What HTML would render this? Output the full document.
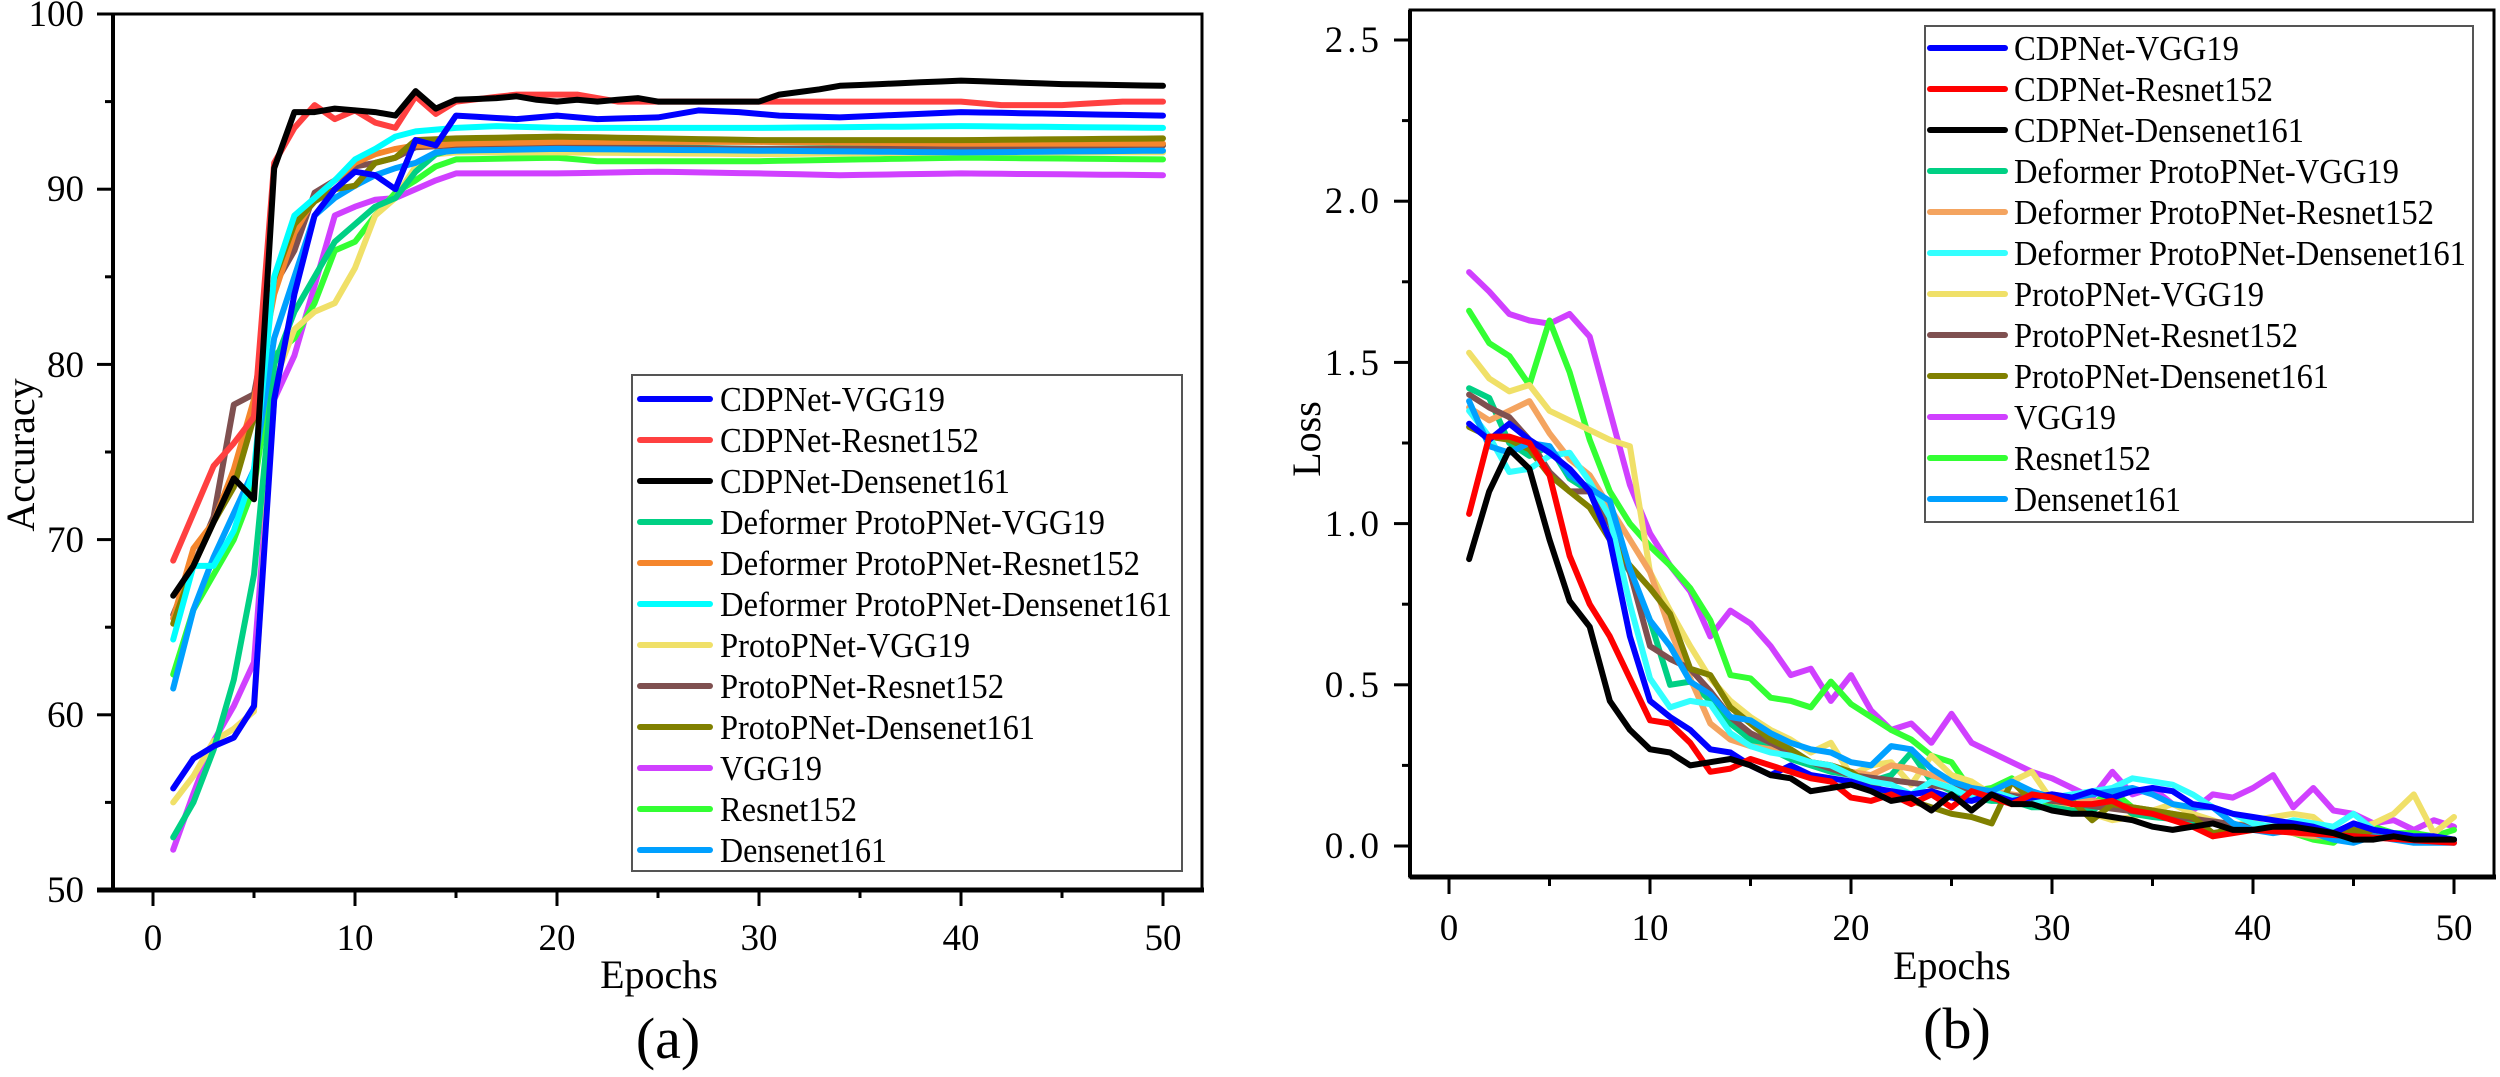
<!DOCTYPE html>
<html><head><meta charset="utf-8"><style>
html,body{margin:0;padding:0;background:#fff;}
svg{display:block;font-family:"Liberation Serif",serif;}
</style></head><body>
<svg id="s" width="2500" height="1077" viewBox="0 0 2500 1077" xmlns="http://www.w3.org/2000/svg">
<rect width="2500" height="1077" fill="#fff"/>
<g id="plots"></g>
<!-- Left axes -->
<g stroke="#000" fill="none">
<rect x="113" y="14" width="1089" height="876" stroke-width="3"/>
<line x1="97" y1="890" x2="1204" y2="890" stroke-width="5"/>
<line x1="113" y1="14" x2="113" y2="890" stroke-width="4"/>
</g>
<g id="lt" stroke="#000" stroke-width="3"></g>
<g font-size="37" text-anchor="end" fill="#000">
<text x="84" y="26">100</text><text x="84" y="201">90</text><text x="84" y="377">80</text>
<text x="84" y="552">70</text><text x="84" y="727">60</text><text x="84" y="902">50</text>
</g>
<g font-size="37" text-anchor="middle">
<text x="153" y="950">0</text><text x="355" y="950">10</text><text x="557" y="950">20</text>
<text x="759" y="950">30</text><text x="961" y="950">40</text><text x="1163" y="950">50</text>
</g>
<text x="659" y="988" font-size="40" text-anchor="middle">Epochs</text>
<text x="668" y="1058" font-size="58" text-anchor="middle">(a)</text>
<text transform="translate(34,455) rotate(-90)" font-size="40" text-anchor="middle">Accuracy</text>
<!-- Right axes -->
<g stroke="#000" fill="none">
<rect x="1410" y="10" width="1084" height="867" stroke-width="3"/>
<line x1="1410" y1="877" x2="2496" y2="877" stroke-width="5"/>
<line x1="1410" y1="10" x2="1410" y2="877" stroke-width="4"/>
</g>
<g id="rt" stroke="#000" stroke-width="3"></g>
<g font-size="37" text-anchor="end" letter-spacing="4">
<text x="1383" y="52">2.5</text><text x="1383" y="213">2.0</text><text x="1383" y="375">1.5</text>
<text x="1383" y="536">1.0</text><text x="1383" y="697">0.5</text><text x="1383" y="858">0.0</text>
</g>
<g font-size="37" text-anchor="middle">
<text x="1449" y="940">0</text><text x="1650" y="940">10</text><text x="1851" y="940">20</text>
<text x="2052" y="940">30</text><text x="2253" y="940">40</text><text x="2454" y="940">50</text>
</g>
<text x="1952" y="979" font-size="40" text-anchor="middle">Epochs</text>
<text x="1957" y="1048" font-size="58" text-anchor="middle">(b)</text>
<text transform="translate(1320,439) rotate(-90)" font-size="40" text-anchor="middle">Loss</text>
<!-- Left legend -->
<rect x="632" y="375" width="550" height="496" fill="#fff" stroke="#555" stroke-width="2"/>
<g stroke-width="6" stroke-linecap="round">
<line x1="640" y1="399" x2="710" y2="399" stroke="#0000ff"/>
<line x1="640" y1="440" x2="710" y2="440" stroke="#ff4040"/>
<line x1="640" y1="481" x2="710" y2="481" stroke="#000000"/>
<line x1="640" y1="522" x2="710" y2="522" stroke="#00d084"/>
<line x1="640" y1="563" x2="710" y2="563" stroke="#f5862c"/>
<line x1="640" y1="604" x2="710" y2="604" stroke="#00ffff"/>
<line x1="640" y1="645" x2="710" y2="645" stroke="#f0e068"/>
<line x1="640" y1="686" x2="710" y2="686" stroke="#7f5050"/>
<line x1="640" y1="727" x2="710" y2="727" stroke="#808000"/>
<line x1="640" y1="768" x2="710" y2="768" stroke="#d040ff"/>
<line x1="640" y1="809" x2="710" y2="809" stroke="#33ff33"/>
<line x1="640" y1="850" x2="710" y2="850" stroke="#00a0ff"/>
</g>
<g font-size="35" lengthAdjust="spacingAndGlyphs">
<text x="720" y="411" textLength="225" lengthAdjust="spacingAndGlyphs">CDPNet-VGG19</text>
<text x="720" y="452" textLength="259" lengthAdjust="spacingAndGlyphs">CDPNet-Resnet152</text>
<text x="720" y="493" textLength="290" lengthAdjust="spacingAndGlyphs">CDPNet-Densenet161</text>
<text x="720" y="534" textLength="385" lengthAdjust="spacingAndGlyphs">Deformer ProtoPNet-VGG19</text>
<text x="720" y="575" textLength="420" lengthAdjust="spacingAndGlyphs">Deformer ProtoPNet-Resnet152</text>
<text x="720" y="616" textLength="452" lengthAdjust="spacingAndGlyphs">Deformer ProtoPNet-Densenet161</text>
<text x="720" y="657" textLength="250" lengthAdjust="spacingAndGlyphs">ProtoPNet-VGG19</text>
<text x="720" y="698" textLength="284" lengthAdjust="spacingAndGlyphs">ProtoPNet-Resnet152</text>
<text x="720" y="739" textLength="315" lengthAdjust="spacingAndGlyphs">ProtoPNet-Densenet161</text>
<text x="720" y="780" textLength="102" lengthAdjust="spacingAndGlyphs">VGG19</text>
<text x="720" y="821" textLength="137" lengthAdjust="spacingAndGlyphs">Resnet152</text>
<text x="720" y="862" textLength="167" lengthAdjust="spacingAndGlyphs">Densenet161</text>
</g>
<!-- Right legend -->
<rect x="1925" y="26" width="548" height="496" fill="#fff" stroke="#555" stroke-width="2"/>
<g stroke-width="6" stroke-linecap="round">
<line x1="1930" y1="48" x2="2005" y2="48" stroke="#0000ff"/>
<line x1="1930" y1="89" x2="2005" y2="89" stroke="#ff0000"/>
<line x1="1930" y1="130" x2="2005" y2="130" stroke="#000000"/>
<line x1="1930" y1="171" x2="2005" y2="171" stroke="#00d084"/>
<line x1="1930" y1="212" x2="2005" y2="212" stroke="#f4a460"/>
<line x1="1930" y1="253" x2="2005" y2="253" stroke="#33ffff"/>
<line x1="1930" y1="294" x2="2005" y2="294" stroke="#f0e068"/>
<line x1="1930" y1="335" x2="2005" y2="335" stroke="#7f5050"/>
<line x1="1930" y1="376" x2="2005" y2="376" stroke="#808000"/>
<line x1="1930" y1="417" x2="2005" y2="417" stroke="#d040ff"/>
<line x1="1930" y1="458" x2="2005" y2="458" stroke="#33ff33"/>
<line x1="1930" y1="499" x2="2005" y2="499" stroke="#00a0ff"/>
</g>
<g font-size="35">
<text x="2014" y="60" textLength="225" lengthAdjust="spacingAndGlyphs">CDPNet-VGG19</text>
<text x="2014" y="101" textLength="259" lengthAdjust="spacingAndGlyphs">CDPNet-Resnet152</text>
<text x="2014" y="142" textLength="290" lengthAdjust="spacingAndGlyphs">CDPNet-Densenet161</text>
<text x="2014" y="183" textLength="385" lengthAdjust="spacingAndGlyphs">Deformer ProtoPNet-VGG19</text>
<text x="2014" y="224" textLength="420" lengthAdjust="spacingAndGlyphs">Deformer ProtoPNet-Resnet152</text>
<text x="2014" y="265" textLength="452" lengthAdjust="spacingAndGlyphs">Deformer ProtoPNet-Densenet161</text>
<text x="2014" y="306" textLength="250" lengthAdjust="spacingAndGlyphs">ProtoPNet-VGG19</text>
<text x="2014" y="347" textLength="284" lengthAdjust="spacingAndGlyphs">ProtoPNet-Resnet152</text>
<text x="2014" y="388" textLength="315" lengthAdjust="spacingAndGlyphs">ProtoPNet-Densenet161</text>
<text x="2014" y="429" textLength="102" lengthAdjust="spacingAndGlyphs">VGG19</text>
<text x="2014" y="470" textLength="137" lengthAdjust="spacingAndGlyphs">Resnet152</text>
<text x="2014" y="511" textLength="167" lengthAdjust="spacingAndGlyphs">Densenet161</text>
</g>
</svg>
<script>
(function(){
var NS="http://www.w3.org/2000/svg";
function el(p,t,a){var e=document.createElementNS(NS,t);for(var k in a)e.setAttribute(k,a[k]);p.appendChild(e);return e;}
// ticks
var lt=document.getElementById('lt'),rt=document.getElementById('rt');
for(var v=50;v<=100;v+=5){var y=14+(100-v)*17.52;el(lt,'line',{x1:v%10?105:97,y1:y,x2:113,y2:y});}
for(var e=0;e<=50;e+=5){var x=153+20.2*e;el(lt,'line',{x1:x,y1:890,x2:x,y2:e%10?898:906});}
for(var L=0;L<=2.5001;L+=0.25){var y=846-L*322.4;el(rt,'line',{x1:Math.abs(L*2-Math.round(L*2))>0.01?1402:1394,y1:y,x2:1410,y2:y});}
for(var e=0;e<=50;e+=5){var x=1449+20.1*e;el(rt,'line',{x1:x,y1:877,x2:x,y2:e%10?886:894});}
function interp(k){var a=[],ks=Object.keys(k).map(Number).sort(function(a,b){return a-b});
for(var e=1;e<=50;e++){if(k[e]!==undefined){a.push(k[e]);continue;}var i=0;while(ks[i+1]<e)i++;var e0=ks[i],e1=ks[i+1];a.push(k[e0]+(k[e1]-k[e0])*(e-e0)/(e1-e0));}return a;}
var g=document.getElementById('plots');
function draw(k,col,fx,fy,w){var a=interp(k),pts=[];for(var i=0;i<50;i++)pts.push(fx(i+1).toFixed(1)+','+fy(a[i]).toFixed(1));
el(g,'polyline',{points:pts.join(' '),fill:'none',stroke:col,'stroke-width':w||6,'stroke-linejoin':'round','stroke-linecap':'round'});}
var LX=function(e){return 153+20.2*e},LY=function(v){return 14+(100-v)*17.52};
var RX=function(e){return 1449+20.1*e},RY=function(v){return 846-v*322.4};
var A=[
['#d040ff',{1:52.3,2:55.5,3:58.5,4:60.5,5:63,6:78,7:80.5,8:84.5,9:88.5,10:89,11:89.4,12:89.5,13:90,14:90.5,15:90.9,20:90.9,25:91,30:90.9,34:90.8,40:90.9,50:90.8}],
['#33ff33',{1:62.3,2:66,3:68,4:70,5:73,6:80.5,7:81.5,8:83.5,9:86.5,10:87,11:88.5,12:89.8,13:90.5,14:91.3,15:91.7,20:91.8,22:91.6,30:91.6,40:91.8,50:91.7}],
['#f0e068',{1:55,2:56.5,3:58.5,4:59.2,5:60.2,6:79,7:82,8:83,9:83.5,10:85.5,11:88.5,12:89.5,13:91.3,14:92,15:92.1,20:92.1,30:92,40:92.1,50:92.1}],
['#00d084',{1:53,2:55,3:58,4:62,5:68,6:80,7:83,8:85,9:87,10:88,11:89,12:89.5,13:91,14:92,15:92.3,20:92.5,30:92.3,40:92.4,50:92.5}],
['#7f5050',{1:65.7,2:68.5,3:71.3,4:77.7,5:78.3,6:84.5,7:86.5,8:89.8,9:90.5,10:91.3,11:91.5,12:91.8,13:92.4,15:92.5,20:92.4,30:92.3,40:92.3,50:92.5}],
['#f5862c',{1:65.5,2:69.5,3:71,4:74,5:78,6:84,7:87.5,8:89.5,9:90.5,10:91.5,11:92,12:92.3,13:92.5,14:92.5,15:92.6,20:92.7,30:92.7,40:92.6,50:92.6}],
['#00a0ff',{1:61.5,2:66,3:69,4:71.5,5:74,6:81.5,7:85,8:88.5,9:89.5,10:90.2,11:90.8,12:91.2,13:91.5,14:92.1,15:92.2,20:92.3,30:92.2,40:92.1,50:92.2}],
['#808000',{1:65.2,2:68.5,3:71,4:73,5:77,6:84.9,7:88,8:89.3,9:90,10:90.2,11:91.5,12:91.8,13:92.8,15:92.9,20:93,25:92.9,30:92.8,40:92.8,50:92.9}],
['#00ffff',{1:64.3,2:68.5,3:68.5,4:70.5,5:74,6:85,7:88.5,8:89.5,9:90.5,10:91.7,11:92.3,12:93,13:93.3,15:93.5,17:93.6,20:93.5,30:93.5,40:93.6,50:93.5}],
['#0000ff',{1:55.8,2:57.5,3:58.2,4:58.7,5:60.5,6:78,7:84,8:88.5,9:90,10:91,11:90.8,12:90,13:92.8,14:92.5,15:94.2,18:94,20:94.2,22:94,25:94.1,27:94.5,29:94.4,31:94.2,34:94.1,40:94.4,45:94.3,50:94.2}],
['#ff4040',{1:68.8,2:71.5,3:74.2,4:75.5,5:77,6:91.5,7:93.5,8:94.8,9:94,10:94.5,11:93.8,12:93.5,13:95.3,14:94.3,15:95,18:95.4,21:95.4,23:95,30:95,40:95,42:94.8,45:94.8,48:95,50:95}],
['#000000',{1:66.8,2:68.5,3:71,4:73.5,5:72.3,6:91.2,7:94.4,8:94.4,9:94.6,10:94.5,11:94.4,12:94.2,13:95.6,14:94.6,15:95.1,17:95.2,18:95.3,19:95.1,20:95,21:95.1,22:95,24:95.2,25:95,30:95,31:95.4,33:95.7,34:95.9,40:96.2,45:96,50:95.9}]
];
A.forEach(function(s){draw(s[1],s[0],LX,LY,6);});
function arr(l){var o={};l.forEach(function(v,i){if(v!==null)o[i+1]=v;});return o;}
var B=[
['#d040ff',arr([1.78,1.72,1.65,1.63,1.62,1.65,1.58,1.35,1.12,0.97,0.87,0.79,0.65,0.73,0.69,0.62,0.53,0.55,0.45,0.53,0.42,0.36,0.38,0.32,0.41,0.32,0.29,0.26,0.23,0.21,0.18,0.15,0.23,0.16,0.18,0.13,0.11,0.16,0.15,0.18,0.22,0.12,0.18,0.11,0.1,0.07,0.08,0.05,0.08,0.06])],
['#33ff33',arr([1.66,1.56,1.52,1.43,1.63,1.47,1.26,1.1,1.0,0.93,0.87,0.8,0.7,0.53,0.52,0.46,0.45,0.43,0.51,0.44,0.4,0.36,0.33,0.28,0.26,0.17,0.18,0.21,0.15,0.13,0.15,0.13,0.17,0.12,0.11,0.1,0.08,0.03,0.07,0.05,0.06,0.04,0.02,0.01,0.06,0.06,0.04,0.04,0.03,0.05])],
['#f0e068',arr([1.53,1.45,1.41,1.43,1.35,1.32,1.29,1.26,1.24,0.85,0.73,0.62,0.52,0.45,0.4,0.36,0.33,0.29,0.32,0.22,0.25,0.26,0.19,0.28,0.22,0.2,0.16,0.2,0.23,0.14,0.12,0.1,0.08,0.09,0.11,0.13,0.1,0.08,0.06,0.08,0.09,0.1,0.09,0.04,0.05,0.07,0.1,0.16,0.04,0.09])],
['#00d084',{1:1.42,2:1.39,3:1.25,4:1.21,5:1.24,6:1.14,7:1.1,8:0.95,9:0.85,10:0.7,11:0.5,12:0.51,13:0.45,14:0.38,15:0.33,16:0.3,17:0.27,18:0.25,19:0.23,20:0.22,21:0.2,22:0.22,23:0.29,24:0.2,25:0.17,26:0.15,27:0.14,28:0.14,29:0.12,30:0.12,31:0.11,32:0.11,33:0.15,34:0.1,35:0.09,40:0.06,45:0.04,50:0.02}],
['#f4a460',{1:1.36,2:1.32,3:1.35,4:1.38,5:1.28,6:1.2,7:1.15,8:1.05,9:0.95,10:0.85,11:0.67,12:0.52,13:0.38,14:0.33,15:0.31,16:0.3,17:0.28,18:0.26,19:0.25,20:0.23,21:0.22,22:0.25,23:0.24,24:0.22,25:0.2,26:0.18,27:0.17,28:0.16,29:0.15,30:0.16,31:0.15,32:0.14,33:0.13,34:0.12,35:0.11,36:0.1,37:0.09,38:0.07,39:0.06,40:0.05,41:0.05,42:0.04,43:0.03,50:0.02}],
['#7f5050',{1:1.4,2:1.36,3:1.33,4:1.26,5:1.16,6:1.1,7:1.1,8:1.0,9:0.85,10:0.62,11:0.58,12:0.55,13:0.48,14:0.4,15:0.35,16:0.32,17:0.29,18:0.26,19:0.24,20:0.22,25:0.18,30:0.14,35:0.1,40:0.06,45:0.04,50:0.02}],
['#808000',arr([1.3,1.27,1.26,1.23,1.15,1.1,1.05,0.95,0.87,0.8,0.72,0.55,0.53,0.43,0.38,0.33,0.3,0.26,0.25,0.23,0.19,0.16,0.14,0.12,0.1,0.09,0.07,0.2,0.14,0.15,0.14,0.08,0.13,0.12,0.11,0.1,0.09,0.04,0.05,0.05,0.05,0.05,0.04,0.04,0.05,0.04,0.03,0.02,0.02,0.02])],
['#33ffff',arr([1.35,1.27,1.16,1.17,1.21,1.22,1.13,1.02,0.75,0.52,0.43,0.45,0.44,0.35,0.31,0.29,0.28,0.26,0.25,0.22,0.2,0.19,0.16,0.2,0.18,0.15,0.17,0.15,0.13,0.15,0.16,0.17,0.18,0.21,0.2,0.19,0.16,0.12,0.1,0.07,0.06,0.08,0.07,0.06,0.1,0.05,0.04,0.03,0.02,0.02])],
['#00a0ff',arr([1.38,1.24,1.22,1.25,1.24,1.15,1.11,1.07,0.86,0.7,0.62,0.51,0.47,0.4,0.39,0.35,0.32,0.3,0.29,0.26,0.25,0.31,0.3,0.24,0.2,0.18,0.17,0.2,0.17,0.15,0.15,0.16,0.17,0.18,0.16,0.13,0.12,0.12,0.07,0.05,0.04,0.05,0.04,0.02,0.01,0.03,0.02,0.01,0.01,0.01])],
['#0000ff',arr([1.31,1.26,1.31,1.26,1.22,1.17,1.1,0.95,0.65,0.45,0.4,0.36,0.3,0.29,0.25,0.22,0.25,0.22,0.21,0.2,0.18,0.17,0.16,0.17,0.15,0.14,0.16,0.14,0.15,0.16,0.15,0.17,0.15,0.17,0.18,0.17,0.13,0.12,0.1,0.09,0.08,0.07,0.06,0.04,0.07,0.05,0.04,0.03,0.03,0.02])],
['#ff0000',{1:1.03,2:1.27,3:1.27,4:1.25,5:1.15,6:0.9,7:0.75,8:0.65,9:0.52,10:0.39,11:0.38,12:0.32,13:0.23,14:0.24,15:0.27,16:0.25,17:0.23,18:0.21,19:0.2,20:0.15,21:0.14,22:0.16,23:0.13,24:0.16,25:0.12,26:0.17,27:0.15,28:0.13,29:0.16,30:0.15,31:0.13,32:0.13,33:0.14,34:0.11,35:0.1,36:0.08,37:0.06,38:0.03,39:0.04,40:0.05,45:0.03,50:0.01}],
['#000000',arr([0.89,1.1,1.23,1.17,0.95,0.76,0.68,0.45,0.36,0.3,0.29,0.25,0.26,0.27,0.25,0.22,0.21,0.17,0.18,0.19,0.17,0.14,0.15,0.11,0.16,0.11,0.16,0.13,0.13,0.11,0.1,0.1,0.09,0.08,0.06,0.05,0.06,0.07,0.05,0.05,0.06,0.06,0.05,0.04,0.02,0.02,0.03,0.02,0.02,0.02])]
];
B.forEach(function(s){draw(s[1],s[0],RX,RY,6);});
})();
</script>
</body></html>
